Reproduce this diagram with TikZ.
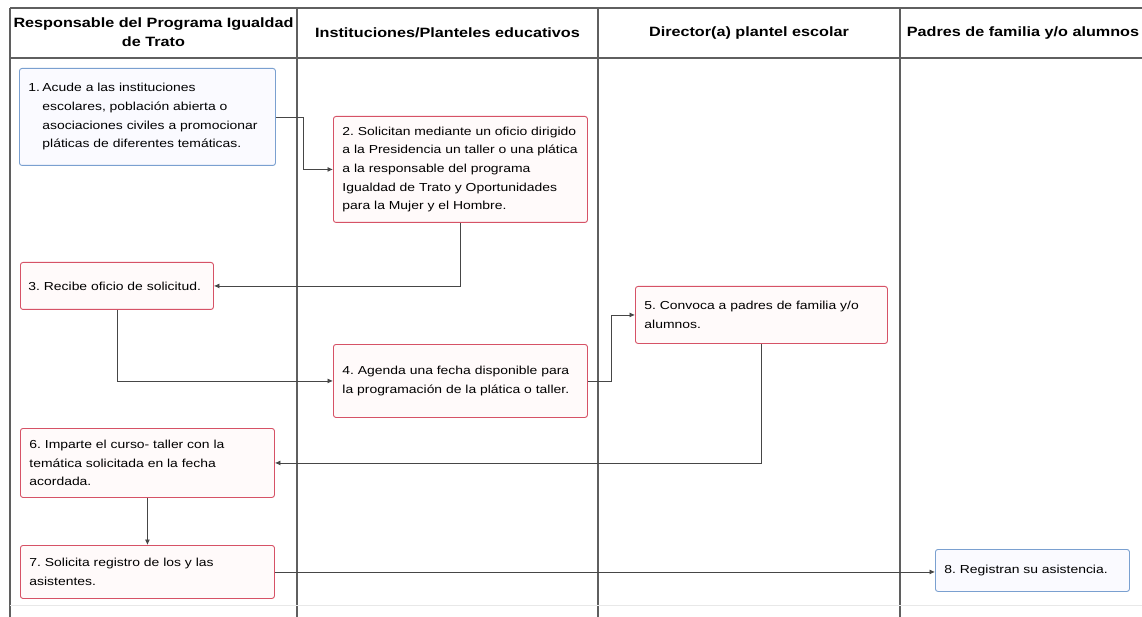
\documentclass[tikz,border=0pt]{standalone}
\usepackage{fontspec}
\setmainfont[FakeStretch=1.2]{Liberation Sans}
\usetikzlibrary{arrows.meta}

\definecolor{gridline}{RGB}{95,95,95}
\definecolor{redborder}{RGB}{214,82,102}
\definecolor{blueborder}{RGB}{122,160,208}
\definecolor{wire}{RGB}{70,70,70}

\tikzset{
  lane/.style={draw=gridline, line width=1.4pt},
  faint/.style={draw=gray!18, line width=0.6pt},
  head/.style={align=center, inner sep=0pt, font=\bfseries\fontsize{13.5}{19}\selectfont},
  stepbox/.style={draw=redborder, fill=red!2, rounded corners=2.5pt, line width=0.9pt,
    anchor=north west, align=left, inner xsep=9pt, inner ysep=0pt,
    font=\frenchspacing\fontsize{11.6}{18.7}\selectfont},
  startbox/.style={stepbox, draw=blueborder, fill=blue!2},
  flow/.style={draw=wire, line width=0.8pt, -{Latex[length=5.5pt,width=5pt]}}
}

\begin{document}
\begin{tikzpicture}[x=1pt, y=-1pt]
  \useasboundingbox (0,0) rectangle (1142,617);
  \clip (0,0) rectangle (1142,617);

  % swimlane grid
  \draw[lane] (10,8) -- (1150,8);
  \draw[lane] (10,58) -- (1150,58);
  \foreach \lx in {10,297,598,900}
    \draw[lane] (\lx,8) -- (\lx,620);
  \draw[faint] (10,605) -- (1150,605);

  % lane titles
  \node[head] (h1) at (153.5,32) {Responsable del Programa Igualdad\\de Trato};
  \node[head] (h2) at (447.5,33) {Instituciones/Planteles educativos};
  \node[head] (h3) at (749,33) {Director(a) plantel escolar};
  \node[head] (h4) at (1023,33) {Padres de familia y/o alumnos};

  % process steps
  \node[startbox, minimum height=97pt, text width=238pt] (s1) at (19,68)
    {\makebox[14pt][l]{1.}Acude a las instituciones\\
     \hspace*{14pt}escolares, población abierta o\\
     \hspace*{14pt}asociaciones civiles a promocionar\\
     \hspace*{14pt}pláticas de diferentes temáticas.};
  \node[stepbox, minimum height=106pt, text width=236pt] (s2) at (333,116)
    {2. Solicitan mediante un oficio dirigido\\
     a la Presidencia un taller o una plática\\
     a la responsable del programa\\
     Igualdad de Trato y Oportunidades\\
     para la Mujer y el Hombre.};
  \node[stepbox, inner xsep=8pt, minimum height=47pt, text width=177pt] (s3) at (20,262)
    {3. Recibe oficio de solicitud.};
  \node[stepbox, minimum height=73pt, text width=236pt] (s4) at (333,344)
    {4. Agenda una fecha disponible para\\
     la programación de la plática o taller.};
  \node[stepbox, minimum height=57pt, text width=234pt] (s5) at (635,286)
    {5. Convoca a padres de familia y/o\\
     alumnos.};
  \node[stepbox, minimum height=69pt, text width=236pt] (s6) at (20,428)
    {6. Imparte el curso- taller con la\\
     temática solicitada en la fecha\\
     acordada.};
  \node[stepbox, minimum height=53pt, text width=236pt] (s7) at (20,545)
    {7. Solicita registro de los y las\\
     asistentes.};
  \node[startbox, minimum height=42pt, text width=176pt] (s8) at (935,549)
    {8. Registran su asistencia.};

  % connectors
  \draw[flow] (s1.east) -- ++(27,0) |- (s2.west);
  \draw[flow] (s2.south) |- (s3.east);
  \draw[flow] (s3.south) |- (s4.west);
  \draw[flow] (s4.east) -- ++(23,0) |- (s5.west);
  \draw[flow] (s5.south) |- (s6.east);
  \draw[flow] (s6.south) -- (s7.north);
  \draw[flow] (s7.east) -- (s7.east -| s8.west);
\end{tikzpicture}
\end{document}
